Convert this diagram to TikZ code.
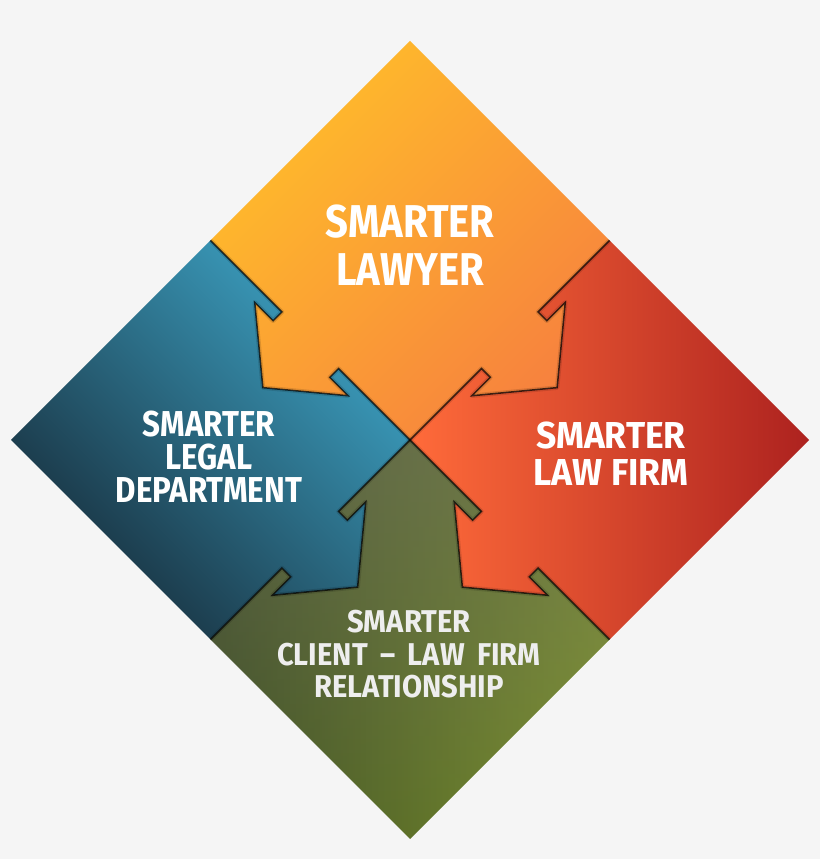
\documentclass[tikz,border=0pt]{standalone}
\usepackage{fontspec}
\newfontfamily\lblfont[FakeStretch=0.87]{Fira Sans}
\newfontfamily\lblfontb[FakeStretch=0.945]{Fira Sans}
\newfontfamily\lblfontc[FakeStretch=0.925]{Fira Sans}
\usetikzlibrary{calc,fadings}
\definecolor{bgc}{HTML}{F5F5F5}
\definecolor{orTop}{HTML}{FFBE2A}
\definecolor{orBot}{HTML}{F7823E}
\definecolor{blTop}{HTML}{3DA3C5}
\definecolor{blBot}{HTML}{172D3B}
\definecolor{rdL}{HTML}{FF6B3A}
\definecolor{rdR}{HTML}{AD221F}
\definecolor{gnL}{HTML}{3F5025}
\definecolor{gnR}{HTML}{7E942E}
\definecolor{gnGray}{HTML}{6E6E62}
\definecolor{txtGray}{HTML}{EEEEEE}
\newcommand\bndpts[4]{%
  \begin{scope}[shift={#2}, x={#3}, y={#4}]
    \coordinate (#1-1) at (-40,0);
    \coordinate (#1-2) at (-40,12.5);
    \coordinate (#1-3) at (-66,12.5);
    \coordinate (#1-4) at (0,67);
    \coordinate (#1-5) at (66,12.5);
    \coordinate (#1-6) at (40,12.5);
    \coordinate (#1-7) at (40,0);
  \end{scope}}
\newcommand\widespaces{\spaceskip=12.5pt plus 2pt\relax}
\tikzset{
  sepline/.style={draw=black, draw opacity=0.72, line width=1.5pt, line join=miter},
  sepglow/.style={draw=black, draw opacity=0.12, line width=4.5pt, line join=round},
  lbl/.style={text=white, align=center, inner sep=0pt},
}
\begin{document}
\begin{tikzpicture}[x=1pt, y=1pt]
\fill[bgc] (0,0) rectangle (820,859);
\useasboundingbox (0,0) rectangle (820,859);
\coordinate (C) at (410,419);
\coordinate (T) at (410,818);
\coordinate (R) at (809,419);
\coordinate (B) at (410,20);
\coordinate (L) at (11,419);
\coordinate (TL) at (210.5,618.5);
\coordinate (TR) at (609.5,618.5);
\coordinate (BL) at (210.5,219.5);
\coordinate (BR) at (609.5,219.5);
\bndpts{ob}{(310.25pt,518.75pt)}{(0.70711pt,-0.70711pt)}{(-0.70711pt,-0.70711pt)}
\bndpts{or}{(509.75pt,518.75pt)}{(-0.70711pt,-0.70711pt)}{(0.70711pt,-0.70711pt)}
\bndpts{bg}{(310.25pt,319.25pt)}{(0.70711pt,0.70711pt)}{(0.70711pt,-0.70711pt)}
\bndpts{rg}{(509.75pt,319.25pt)}{(-0.70711pt,0.70711pt)}{(-0.70711pt,-0.70711pt)}
% orange (top)
\shade[top color=orTop, bottom color=orBot, shading angle=45]
  (T) -- (TR) -- (or-1) -- (or-2) -- (or-3) -- (or-4) -- (or-5) -- (or-6) -- (or-7) -- (C)
  -- (ob-7) -- (ob-6) -- (ob-5) -- (ob-4) -- (ob-3) -- (ob-2) -- (ob-1) -- (TL) -- cycle;
% blue (left)
\shade[top color=blTop, bottom color=blBot, shading angle=-45]
  (TL) -- (ob-1) -- (ob-2) -- (ob-3) -- (ob-4) -- (ob-5) -- (ob-6) -- (ob-7) -- (C)
  -- (bg-7) -- (bg-6) -- (bg-5) -- (bg-4) -- (bg-3) -- (bg-2) -- (bg-1) -- (BL) -- (L) -- cycle;
% red (right)
\shade[top color=rdL, bottom color=rdR, shading angle=90]
  (TR) -- (R) -- (BR) -- (rg-1) -- (rg-2) -- (rg-3) -- (rg-4) -- (rg-5) -- (rg-6) -- (rg-7) -- (C)
  -- (or-7) -- (or-6) -- (or-5) -- (or-4) -- (or-3) -- (or-2) -- (or-1) -- cycle;
% green (bottom)
\shade[top color=gnL, bottom color=gnR, shading angle=90]
  (BL) -- (bg-1) -- (bg-2) -- (bg-3) -- (bg-4) -- (bg-5) -- (bg-6) -- (bg-7) -- (C)
  -- (rg-7) -- (rg-6) -- (rg-5) -- (rg-4) -- (rg-3) -- (rg-2) -- (rg-1) -- (BR) -- (B) -- cycle;
\fill[gnGray, fill opacity=0.55, path fading=south]
  (BL) -- (bg-1) -- (bg-2) -- (bg-3) -- (bg-4) -- (bg-5) -- (bg-6) -- (bg-7) -- (C)
  -- (rg-7) -- (rg-6) -- (rg-5) -- (rg-4) -- (rg-3) -- (rg-2) -- (rg-1) -- (BR) -- (B) -- cycle;
% separating outlines
\foreach \p/\o in {ob/TL, or/TR, bg/BL, rg/BR}{
  \draw[sepglow] (\o) -- (\p-1) -- (\p-2) -- (\p-3) -- (\p-4) -- (\p-5) -- (\p-6) -- (\p-7) -- (C);
  \draw[sepline] (\o) -- (\p-1) -- (\p-2) -- (\p-3) -- (\p-4) -- (\p-5) -- (\p-6) -- (\p-7) -- (C);
}
% labels
\node[lbl, font=\lblfont\bfseries\fontsize{46}{48}\selectfont] (lawyer) at (410,614) {SMARTER\\LAWYER};
\node[lbl, font=\lblfont\bfseries\fontsize{36}{33}\selectfont] (legal) at (209,401.8) {SMARTER\\LEGAL\\DEPARTMENT};
\node[lbl, font=\lblfontb\bfseries\fontsize{37.5}{37}\selectfont] (firm) at (611,405) {SMARTER\\LAW FIRM};
\node[lbl, text=txtGray, font=\lblfontc\bfseries\fontsize{31.5}{32.5}\selectfont] (client) at (409,204.8) {SMARTER\\\widespaces CLIENT – LAW FIRM\\RELATIONSHIP};
\end{tikzpicture}
\end{document}
